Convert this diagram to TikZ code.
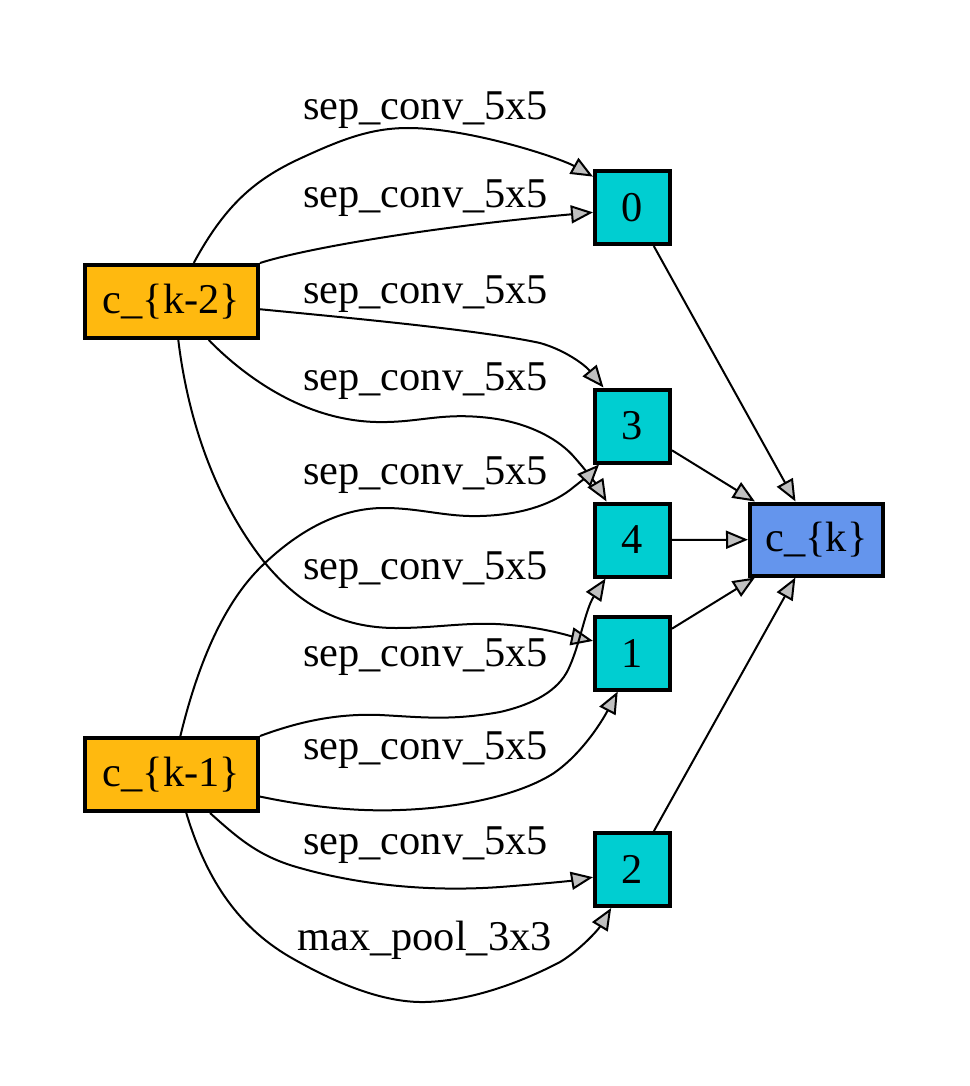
\documentclass[tikz,border=0pt]{standalone}
\usepackage{fontspec}
\setmainfont{Liberation Serif}
\usetikzlibrary{arrows.meta}
\definecolor{inorange}{HTML}{FFB90F}
\definecolor{midcyan}{HTML}{00CED1}
\definecolor{outblue}{HTML}{6495ED}
\definecolor{tipgray}{HTML}{C0C0C0}
\begin{document}
\begin{tikzpicture}[x=1pt,y=-1pt,
  box/.style={draw=black, line width=4pt, inner sep=0pt, font=\fontsize{42.4}{50}\selectfont},
  inbox/.style={box, fill=inorange, minimum width=173pt, minimum height=73pt},
  midbox/.style={box, fill=midcyan, minimum width=75pt, minimum height=73pt},
  outbox/.style={box, fill=outblue, minimum width=133pt, minimum height=72pt},
  edge/.style={draw=black, line width=2pt, -{Triangle[length=22pt,width=18pt,fill=tipgray]}},
  lab/.style={inner sep=0pt, font=\fontsize{42.4}{50}\selectfont}]
\useasboundingbox (0,0) rectangle (969,1086);
% nodes
\node[inbox] (k2) at (171.5,301.5) {c\_\{k-2\}};
\node[inbox] (k1) at (171.5,774.5) {c\_\{k-1\}};
\node[midbox] (n0) at (632.5,207.5) {0};
\node[midbox] (n3) at (632.5,426) {3};
\node[midbox] (n4) at (632.5,540) {4};
\node[midbox] (n1) at (632.5,653) {1};
\node[midbox] (n2) at (632.5,869.5) {2};
\node[outbox] (ck) at (816.5,539.5) {c\_\{k\}};
% labels
\node[lab] (l1) at (425.7,110) {sep\_conv\_5x5};
\node[lab] (l2) at (425.7,198) {sep\_conv\_5x5};
\node[lab] (l3) at (425.7,294) {sep\_conv\_5x5};
\node[lab] (l4) at (425.7,381) {sep\_conv\_5x5};
\node[lab] (l5) at (425.7,475) {sep\_conv\_5x5};
\node[lab] (l6) at (425.7,570) {sep\_conv\_5x5};
\node[lab] (l7) at (425.7,657) {sep\_conv\_5x5};
\node[lab] (l8) at (425.7,750) {sep\_conv\_5x5};
\node[lab] (l9) at (425.7,845) {sep\_conv\_5x5};
\node[lab] (l10) at (424.5,940) {max\_pool\_3x3};
% edges from inputs
\draw[edge] (k2.60) .. controls (225,205) and (255,180) .. (297,160) .. controls (340,140) and (370,128) .. (408,128) .. controls (470,128) and (560,158) .. (n0.142);
\draw[edge] (k2.north east) .. controls (300,250) and (420,228) .. (n0.187);
\draw[edge] (k2.-5) .. controls (350,318) and (480,330) .. (540,343) .. controls (565,350) and (585,365) .. (n3.127);
\draw[edge] (k2.-46) .. controls (240,372) and (300,420) .. (376,422) .. controls (420,423) and (440,412) .. (490,418) .. controls (530,423) and (560,440) .. (575,458) .. controls (590,475) and (598,487) .. (n4.124);
\draw[edge] (k1.77) .. controls (200,655) and (228,597) .. (265,563) .. controls (300,530) and (340,508) .. (384,508) .. controls (420,508) and (445,517) .. (480,516) .. controls (520,515) and (550,505) .. (570,490) .. controls (580,482) and (590,474) .. (n3.229);
\draw[edge] (k2.-80) .. controls (188,420) and (215,500) .. (265,563) .. controls (300,605) and (340,628) .. (396,628) .. controls (440,628) and (470,621) .. (510,625) .. controls (545,628) and (570,636) .. (n1.163);
\draw[edge] (k1.north east) .. controls (290,725) and (330,713) .. (380,715) .. controls (420,717) and (450,721) .. (500,712) .. controls (535,704) and (558,690) .. (568,670) .. controls (580,645) and (585,610) .. (n4.235);
\draw[edge] (k1.-14) .. controls (300,805) and (350,812) .. (400,810) .. controls (460,808) and (520,795) .. (554,773) .. controls (580,755) and (600,725) .. (n1.249);
\draw[edge] (k1.-45) .. controls (240,840) and (260,857) .. (300,868) .. controls (360,885) and (430,892) .. (500,887) .. controls (540,884) and (570,881) .. (n2.191);
\draw[edge] (k1.-69) .. controls (205,875) and (235,925) .. (290,957) .. controls (330,980) and (380,1003) .. (425,1002) .. controls (470,1001) and (520,983) .. (560,962) .. controls (580,950) and (598,930) .. (n2.241);
% edges to output
\draw[edge] (n0) -- (ck);
\draw[edge] (n3) -- (ck);
\draw[edge] (n4) -- (ck);
\draw[edge] (n1) -- (ck);
\draw[edge] (n2) -- (ck);
\end{tikzpicture}
\end{document}
